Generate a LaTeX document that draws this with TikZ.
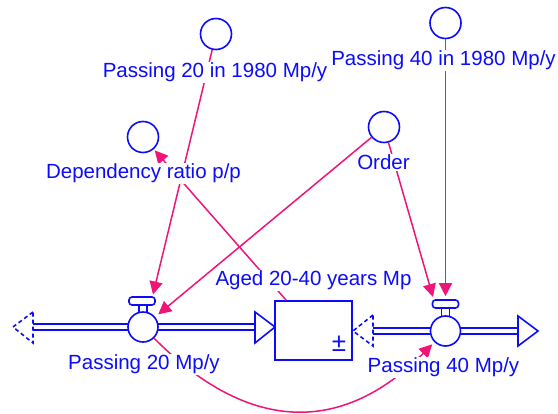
\documentclass[tikz,border=0pt]{standalone}
\usepackage{fontspec}
\setmainfont{Liberation Sans}
\usetikzlibrary{arrows.meta}
\definecolor{flowblue}{RGB}{12,12,250}
\definecolor{linkpink}{RGB}{240,20,120}
\begin{document}
\begin{tikzpicture}[x=1pt,y=-1pt,
  flowline/.style={draw=flowblue, line width=1.6pt},
  aux/.style={circle, flowline, minimum size=31pt, inner sep=0pt},
  valvebody/.style={circle, flowline, fill=white, minimum size=30pt, inner sep=0pt},
  valvehandle/.style={rectangle, flowline, fill=white, rounded corners=3pt,
    minimum width=26pt, minimum height=8pt, inner sep=0pt},
  stockbox/.style={rectangle, flowline, fill=white, minimum width=77pt,
    minimum height=59pt, inner sep=0pt},
  pipe/.style={flowline, double=white, double distance=4.8pt},
  cloud/.style={flowline, dash pattern=on 4pt off 3pt},
  headbox/.style={flowline, fill=white},
  lbl/.style={text=flowblue, fill=white, inner sep=1pt, anchor=base,
    font=\fontsize{20.5}{24}\selectfont},
  link/.style={draw=linkpink, line width=1.5pt,
    -{Triangle[length=13pt,width=13pt]}},
]
\useasboundingbox (0,0) rectangle (558,414);

% auxiliary variables
\node[aux] (p20c)  at (216,34)    {};
\node[aux] (p40c)  at (445.5,23)  {};
\node[aux] (dep)   at (143,137)   {};
\node[aux] (order) at (384,127)   {};

% flow "Passing 20": cloud -> stock
\coordinate (src1) at (33,327);
\coordinate (tip1) at (255,327);
\draw[pipe] (src1) -- (tip1);
\draw[cloud] (33,312) -- (13,327) -- (33,343) -- cycle;
\draw[headbox] (255,312) -- (275,327) -- (255,343) -- cycle;
\draw[flowline] (139,303) -- (139,314) (147,303) -- (147,314);
\node[valvehandle] (v1h) at (142,301) {};
\node[valvebody] (v1) at (143,327) {};

% stock
\node[stockbox] (stock) at (313.5,330.5) {};
\node[text=flowblue, inner sep=0pt, font=\fontsize{26}{30}\selectfont]
  (sign) at (339,344) {±};

% flow "Passing 40": stock -> cloud
\coordinate (src2) at (373,331);
\coordinate (tip2) at (518,331);
\draw[pipe] (src2) -- (tip2);
\draw[cloud] (373,315) -- (353,331) -- (373,346) -- cycle;
\draw[headbox] (518,316) -- (538,331) -- (518,346) -- cycle;
\draw[flowline] (441.5,306) -- (441.5,318) (449.5,306) -- (449.5,318);
\node[valvehandle] (v2h) at (445.5,304) {};
\node[valvebody] (v2) at (445.5,331) {};

% causal links
\coordinate (v1in) at (153,294.5);
\coordinate (v2in) at (433,297);
\draw[link] (p20c) -- (v1in);
\draw[link, shorten >=4pt] (order) -- (v1);
\draw[link] (order) -- (v2in);
\draw[link, shorten >=3pt] (p40c) -- (v2h);
\draw[link, shorten >=1.5pt] ([xshift=12pt]stock.north west) -- (dep);
\draw[link, shorten >=3pt] (v1) .. controls (245,430) and (339,438) .. (v2);

% labels
\node[lbl] (p20cL)  at (215,78)    {Passing 20 in 1980 Mp/y};
\node[lbl] (p40cL)  at (443.5,66)  {Passing 40 in 1980 Mp/y};
\node[lbl] (depL)   at (143.5,179) {Dependency ratio p/p};
\node[lbl] (orderL) at (383.5,170) {Order};
\node[lbl] (stockL) at (313.5,286) {Aged 20-40 years Mp};
\node[lbl] (v1L)    at (144,370)   {Passing 20 Mp/y};
\node[lbl] (v2L)    at (443.5,373) {Passing 40 Mp/y};
\end{tikzpicture}
\end{document}
